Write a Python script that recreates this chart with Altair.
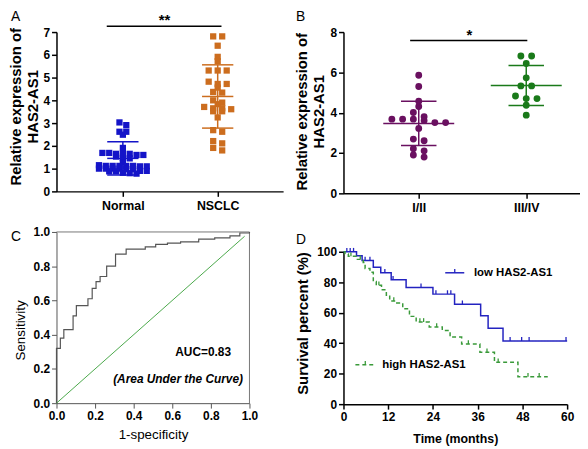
import json
import altair as alt
import pandas as pd

FONT = "Liberation Sans"

# ---------------- Panel A data ----------------
a_groups = ["Normal", "NSCLC"]
a_normal = [3.03, 2.91, 2.62, 2.62, 2.49, 1.91, 1.69, 1.69, 1.65, 1.65, 1.65,
            1.60, 1.60, 1.53, 1.46, 1.45, 1.28, 1.15, 1.12, 1.12, 1.12, 1.12,
            1.12, 1.10, 1.10, 1.00, 1.00, 1.00, 1.00, 0.98, 0.98, 0.90, 0.90,
            0.88, 0.88, 0.82, 0.80, 0.78]
a_nsclc = [6.81, 6.81, 6.40, 5.91, 5.72, 5.31, 5.31, 5.31, 4.82, 4.72, 4.72,
           4.56, 4.37, 4.34, 4.00, 3.90, 3.83, 3.71, 3.65, 3.65, 3.61, 3.52,
           3.52, 3.25, 2.69, 2.62, 2.21, 2.11, 1.91, 1.80]
a_mean = [1.45, 4.17]
a_sd = [0.73, 1.39]
a_colors = ["#1414c8", "#cc6d1e"]
a_yticks = [0, 1, 2, 3, 4, 5, 6, 7]

# ---------------- Panel B data ----------------
b_groups = ["I/II", "III/IV"]
b_early = [5.86, 5.30, 4.57, 4.31, 4.01, 3.80, 3.68, 3.68, 3.68, 3.61, 3.51,
           3.51, 3.22, 2.69, 2.61, 2.21, 2.11, 1.90, 1.80]
b_late = [6.81, 6.81, 6.44, 5.73, 5.33, 5.33, 4.83, 4.70, 4.70, 4.37, 3.88]
b_mean = [3.47, 5.35]
b_sd = [1.10, 0.99]
b_colors = ["#6a1060", "#1a7a1a"]
b_yticks = [0, 2, 4, 6, 8]

# ---------------- Panel C data (ROC) ----------------
roc_fpr = [0.0, 0.0, 0.020, 0.038, 0.086, 0.103, 0.163, 0.185, 0.205, 0.226,
           0.260, 0.306, 0.361, 0.460, 0.514, 0.575, 0.643, 0.737, 0.820,
           0.899, 0.950, 1.0]
roc_tpr = [0.0, 0.32, 0.38, 0.43, 0.51, 0.57, 0.61, 0.67, 0.71, 0.74,
           0.80, 0.87, 0.90, 0.913, 0.927, 0.935, 0.942, 0.958, 0.965,
           0.977, 0.994, 1.0]
diag_pts = [0.0, 0.975]
c_ticks = [0.0, 0.2, 0.4, 0.6, 0.8, 1.0]

# ---------------- Panel D data (Kaplan-Meier) ----------------
km_groups = ["low HAS2-AS1", "high HAS2-AS1"]
km_low_t = [3.5, 5.0, 8.0, 10.0, 12.8, 16.8, 24.0, 29.8, 36.8, 38.8, 42.8]
km_low_s = [97.4, 94.2, 89.8, 86.2, 81.6, 76.6, 72.2, 65.5, 58.0, 49.8, 41.5]
km_low_end = 60.0
km_low_cens = [0.9, 1.8, 2.7, 5.8, 7.1, 11.1, 13.3, 20.8, 24.8, 27.9, 28.8,
               31.9, 44.7, 47.8, 49.8, 59.7]
km_high_t = [0.4, 1.3, 3.5, 5.3, 5.8, 7.1, 8.0, 8.8, 10.2, 11.5, 12.4, 14.3,
             15.9, 17.7, 19.5, 23.0, 26.5, 28.6, 31.7, 36.6, 40.5, 46.8]
km_high_s = [98.5, 97.0, 95.0, 93.0, 89.0, 86.5, 80.5, 78.0, 75.0, 71.5, 67.7,
             66.4, 62.6, 57.6, 53.9, 50.6, 48.3, 44.0, 39.4, 34.0, 27.5, 18.0]
km_high_end = 54.8
km_high_cens = [2.0, 4.5, 9.5, 13.5, 20.5, 21.5, 25.0, 33.5, 38.5, 41.5,
                49.5, 52.5]
km_colors = ["#2323c0", "#3a9a3a"]
d_xticks = [0, 12, 24, 36, 48, 60]
d_yticks = [0, 20, 40, 60, 80, 100]

# annotation anchors (data coordinates)
A_SIG = {"x1": -0.17, "x2": 1.04, "y": 7.26, "tx": 0.44, "ty": 7.33, "t": "**"}
B_SIG = {"x1": -0.08, "x2": 1.01, "y": 7.58, "tx": 0.47, "ty": 7.62, "t": "*"}
AUC_TXT = {"x": 0.76, "y": 0.30, "t": "AUC=0.83"}
AUC_SUB = {"x": 0.63, "y": 0.143, "t": "(Area Under the Curve)"}
LEG_LOW = {"x1": 27.3, "x2": 32.4, "y": 86.2, "tx": 35.0}
LEG_HIGH = {"x1": 3.2, "x2": 8.5, "y": 25.8, "tx": 10.4}


def swarm(values, center, row_gap, step):
    vals = sorted(values, reverse=True)
    rows = []
    for v in vals:
        if rows and rows[-1][0] - v < row_gap:
            rows[-1].append(v)
        else:
            rows.append([v])
    out = []
    for row in rows:
        n = len(row)
        for i, v in enumerate(row):
            out.append((center + (i - (n - 1) / 2) * step, v))
    return out


def letter_layer(letter, lx, ly):
    return alt.Chart(pd.DataFrame({"t": [letter]})).mark_text(
        align="left", baseline="alphabetic", fontSize=14, font=FONT, color="black"
    ).encode(text="t:N", x=alt.value(lx), y=alt.value(ly))


def dot_panel(groups, series, colors, shape, size, means, sds, steps, row_gap,
              xdom, yticks, width, height, cap_half, mean_half, sig, letter,
              lxy, title_y, title_pad):
    rows = []
    for gi, (g, vals) in enumerate(zip(groups, series)):
        for x, y in swarm(vals, gi, row_gap, steps[gi]):
            rows.append({"x": x, "y": y, "g": g})
    pts = pd.DataFrame(rows)
    xs = alt.Scale(domain=xdom, nice=False, zero=False)
    ys = alt.Scale(domain=[yticks[0], yticks[-1]], nice=False)
    col = alt.Color("g:N", scale=alt.Scale(domain=groups, range=colors), legend=None)
    xaxis = alt.Axis(values=list(range(len(groups))),
                     labelExpr=json.dumps(groups) + "[datum.value]",
                     title=None, grid=False, tickSize=5, tickWidth=1.5,
                     domainWidth=1.5, domainColor="black", tickColor="black",
                     labelFontSize=12.5, labelFontWeight="bold", labelFlush=False,
                     labelColor="black", labelPadding=3)
    yaxis = alt.Axis(values=yticks, title=["Relative expression of", "HAS2-AS1"],
                     titleFontSize=15, titleFontWeight="bold", titleColor="black",
                     titlePadding=title_pad, titleLineHeight=17, titleY=title_y,
                     grid=False, tickSize=5, tickWidth=1.5, domainWidth=1.5,
                     domainColor="black", tickColor="black", labelFontSize=12,
                     labelFontWeight="bold", labelColor="black", labelPadding=2,
                     labelFlush=False)

    def X(f):
        return alt.X(f, scale=xs, axis=xaxis)

    def Y(f):
        return alt.Y(f, scale=ys, axis=yaxis)

    points = alt.Chart(pts).mark_point(shape=shape, filled=True, size=size,
                                       opacity=1).encode(
        x=X("x:Q"), y=Y("y:Q"), color=col)
    stats = pd.DataFrame({"g": groups, "c": list(range(len(groups))),
                          "m": means, "s": sds})
    stats["lo"] = stats["m"] - stats["s"]
    stats["hi"] = stats["m"] + stats["s"]
    stats["c1"] = stats["c"] - cap_half
    stats["c2"] = stats["c"] + cap_half
    stats["m1"] = stats["c"] - mean_half
    stats["m2"] = stats["c"] + mean_half
    base = alt.Chart(stats)
    vline = base.mark_rule(strokeWidth=1.5).encode(
        x=X("c:Q"), y=Y("lo:Q"), y2="hi:Q", color=col)
    cap_hi = base.mark_rule(strokeWidth=1.5).encode(
        x=X("c1:Q"), x2="c2:Q", y=Y("hi:Q"), color=col)
    cap_lo = base.mark_rule(strokeWidth=1.5).encode(
        x=X("c1:Q"), x2="c2:Q", y=Y("lo:Q"), color=col)
    mline = base.mark_rule(strokeWidth=1.5).encode(
        x=X("m1:Q"), x2="m2:Q", y=Y("m:Q"), color=col)
    sigdf = pd.DataFrame([sig])
    sigline = alt.Chart(sigdf).mark_rule(strokeWidth=1.5, color="black").encode(
        x=X("x1:Q"), x2="x2:Q", y=Y("y:Q"))
    star = alt.Chart(sigdf).mark_text(fontSize=15, fontWeight="bold",
                                      baseline="alphabetic", color="black").encode(
        x=X("tx:Q"), y=Y("ty:Q"), text="t:N")
    return alt.layer(points, vline, cap_hi, cap_lo, mline, sigline, star,
                     letter_layer(letter, *lxy)).properties(width=width, height=height)


chart_a = dot_panel(a_groups, [a_normal, a_nsclc], a_colors, "square", 40,
                    a_mean, a_sd, [0.072, 0.095], 0.12, [-0.70, 1.69], a_yticks,
                    229, 161, 0.165, 0.165, A_SIG, "A", (-46, -11), 75, 3)
chart_b = dot_panel(b_groups, [b_early, b_late], b_colors, "circle", 48,
                    b_mean, b_sd, [0.10, 0.10], 0.25, [-0.70, 1.50], b_yticks,
                    239, 163, 0.165, 0.33, B_SIG, "B", (-48, -11), 80, 4)

# ---------------- Panel C ----------------
cx = alt.Scale(domain=[0, 1], nice=False)
cy = alt.Scale(domain=[0, 1], nice=False)
c_axis_common = dict(grid=False, tickSize=5, tickWidth=1, domainWidth=1,
                     domainColor="#555", tickColor="#555", labelFontSize=12,
                     labelFontWeight="bold", labelColor="black", format=".1f",
                     titleFontSize=13.5, titleFontWeight="normal",
                     titleColor="black", values=c_ticks, labelFlush=False)
c_xaxis = alt.Axis(title="1-specificity", labelPadding=3, titlePadding=6,
                   **c_axis_common)
c_yaxis = alt.Axis(title="Sensitivity", titlePadding=6, labelPadding=2,
                   titleY=99, **c_axis_common)


def CX(f):
    return alt.X(f, scale=cx, axis=c_xaxis)


def CY(f):
    return alt.Y(f, scale=cy, axis=c_yaxis)


roc_df = pd.DataFrame({"fpr": roc_fpr, "tpr": roc_tpr})
roc_df["idx"] = range(len(roc_df))
roc = alt.Chart(roc_df).mark_line(interpolate="step-after", color="#555",
                                  strokeWidth=1.2).encode(
    x=CX("fpr:Q"), y=CY("tpr:Q"), order=alt.Order("idx:Q"))
diag = alt.Chart(pd.DataFrame({"a": diag_pts, "b": diag_pts})).mark_line(
    color="#4aa84a", strokeWidth=1).encode(x=CX("a:Q"), y=CY("b:Q"))
frame_df = pd.DataFrame({"x1": [0.0, 1.0], "x2": [1.0, 1.0],
                         "y1": [1.0, 0.0], "y2": [1.0, 1.0]})
frame = alt.Chart(frame_df).mark_rule(color="#777", strokeWidth=1).encode(
    x=CX("x1:Q"), x2="x2:Q", y=CY("y1:Q"), y2="y2:Q")
auc = alt.Chart(pd.DataFrame([AUC_TXT])).mark_text(
    fontSize=12, fontWeight="bold", color="black").encode(
    x=CX("x:Q"), y=CY("y:Q"), text="t:N")
auc2 = alt.Chart(pd.DataFrame([AUC_SUB])).mark_text(
    fontSize=12, fontWeight="bold", fontStyle="italic", color="black").encode(
    x=CX("x:Q"), y=CY("y:Q"), text="t:N")
chart_c = alt.layer(frame, roc, diag, auc, auc2,
                    letter_layer("C", -46, 9)).properties(width=195, height=173)

# ---------------- Panel D ----------------
def km_rows(group, times, surv, end):
    rows = [{"g": group, "t": 0.0, "s": 100.0}]
    for t, s in zip(times, surv):
        rows.append({"g": group, "t": t, "s": s})
    rows.append({"g": group, "t": end, "s": surv[-1]})
    return rows


def surv_at(times, surv, c):
    s = 100.0
    for t, v in zip(times, surv):
        if t <= c:
            s = v
    return s


km_df = pd.DataFrame(km_rows(km_groups[0], km_low_t, km_low_s, km_low_end) +
                     km_rows(km_groups[1], km_high_t, km_high_s, km_high_end))
cens_df = pd.DataFrame(
    [{"g": km_groups[0], "t": c, "s": surv_at(km_low_t, km_low_s, c)} for c in km_low_cens] +
    [{"g": km_groups[1], "t": c, "s": surv_at(km_high_t, km_high_s, c)} for c in km_high_cens])

dx = alt.Scale(domain=[0, 60], nice=False)
dy = alt.Scale(domain=[0, 100], nice=False)
dcol = alt.Color("g:N", scale=alt.Scale(domain=km_groups, range=km_colors), legend=None)
d_axis_common = dict(grid=False, tickSize=5, tickWidth=1.5, domainWidth=1.5,
                     domainColor="black", tickColor="black", labelFontSize=12,
                     labelFontWeight="bold", labelColor="black",
                     titleFontWeight="bold", titleColor="black", labelFlush=False)
d_xaxis = alt.Axis(values=d_xticks, title="Time (months)", titleFontSize=12.5,
                   labelPadding=3, titlePadding=10, **d_axis_common)
d_yaxis = alt.Axis(values=d_yticks, title="Survival percent (%)", titleFontSize=15,
                   titlePadding=6, labelPadding=2, titleY=72, **d_axis_common)


def DX(f):
    return alt.X(f, scale=dx, axis=d_xaxis)


def DY(f):
    return alt.Y(f, scale=dy, axis=d_yaxis)


tick_shape = "M0,0L0,-1"


def km_line(group, dash):
    return alt.Chart(km_df[km_df["g"] == group]).mark_line(
        interpolate="step-after", strokeWidth=1.5, strokeDash=dash).encode(
        x=DX("t:Q"), y=DY("s:Q"), color=dcol)


low_line = km_line(km_groups[0], [1, 0])
high_line = km_line(km_groups[1], [4, 3])
cens = alt.Chart(cens_df).mark_point(shape=tick_shape, size=60, filled=False,
                                     strokeWidth=1.3, opacity=1).encode(
    x=DX("t:Q"), y=DY("s:Q"), color=dcol)

leg_df = pd.DataFrame([
    {"g": km_groups[0], "x1": LEG_LOW["x1"], "x2": LEG_LOW["x2"], "y": LEG_LOW["y"],
     "tx": LEG_LOW["tx"], "xm": (LEG_LOW["x1"] + LEG_LOW["x2"]) / 2},
    {"g": km_groups[1], "x1": LEG_HIGH["x1"], "x2": LEG_HIGH["x2"], "y": LEG_HIGH["y"],
     "tx": LEG_HIGH["tx"], "xm": (LEG_HIGH["x1"] + LEG_HIGH["x2"]) / 2},
])
leg_low = alt.Chart(leg_df[leg_df["g"] == km_groups[0]]).mark_rule(
    strokeWidth=1.5).encode(x=DX("x1:Q"), x2="x2:Q", y=DY("y:Q"), color=dcol)
leg_high = alt.Chart(leg_df[leg_df["g"] == km_groups[1]]).mark_rule(
    strokeWidth=1.5, strokeDash=[4, 3]).encode(
    x=DX("x1:Q"), x2="x2:Q", y=DY("y:Q"), color=dcol)
leg_ticks = alt.Chart(leg_df).mark_point(shape=tick_shape, size=60, filled=False,
                                         strokeWidth=1.3, opacity=1).encode(
    x=DX("xm:Q"), y=DY("y:Q"), color=dcol)
leg_text = alt.Chart(leg_df).mark_text(align="left", baseline="middle",
                                       fontSize=11.5, fontWeight="bold",
                                       color="black").encode(
    x=DX("tx:Q"), y=DY("y:Q"), text="g:N")

chart_d = alt.layer(low_line, high_line, cens, leg_low, leg_high, leg_ticks,
                    leg_text, letter_layer("D", -48, -8)).properties(
    width=226, height=154)

left = alt.vconcat(chart_a, chart_c, spacing=14).resolve_scale(color="independent")
right = alt.vconcat(chart_b, chart_d, spacing=19).resolve_scale(color="independent")
chart = alt.hconcat(left, right, spacing=11).properties(padding=0).resolve_scale(
    color="independent").configure(font=FONT).configure_view(stroke=None)

chart.save("out.html", embed_options={"renderer": "svg", "actions": False})
